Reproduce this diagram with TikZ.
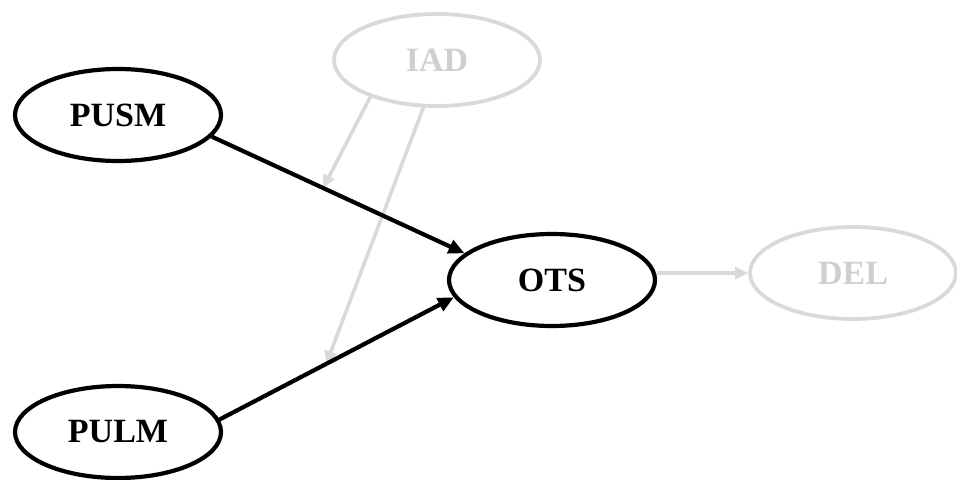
\documentclass[tikz,border=0pt]{standalone}
\usepackage{fontspec}
\setmainfont{Liberation Serif}
\usetikzlibrary{shapes.geometric,arrows.meta,calc}
\definecolor{faint}{HTML}{D9D9D9}
\definecolor{fainttext}{HTML}{CFCFCF}
\tikzset{
  construct/.style={ellipse, draw=black, line width=4.2pt, inner sep=0pt,
    minimum width=206pt, minimum height=92pt,
    font=\fontsize{34}{40}\selectfont\bfseries},
  faintconstruct/.style={construct, draw=faint, line width=3.8pt, text=fainttext},
  path/.style={line width=4.2pt, -{Triangle[length=16pt,width=14pt]}},
  faintpath/.style={draw=faint, line width=3.6pt, -{Triangle[length=13pt,width=12pt]}},
}
\begin{document}
\begin{tikzpicture}[x=1pt,y=-1pt]
  \useasboundingbox (0,0) rectangle (957,479);
  % constructs
  \node[construct] (PUSM) at (118,115) {PUSM};
  \node[construct] (PULM) at (118,432) {PULM};
  \node[construct] (OTS) at (552,280) {OTS};
  \node[faintconstruct] (IAD) at (437,60) {IAD};
  \node[faintconstruct] (DEL) at (853,273) {DEL};
  % moderation targets on the two main paths
  \coordinate (m1) at ($(PUSM.-13)!0.44!(OTS.163)$);
  \coordinate (m2) at ($(PULM.7)!0.455!(OTS.190)$);
  % moderating effects (drawn first, underneath)
  \draw[faintpath] (IAD.209) -- (m1);
  \draw[faintpath] (IAD.254) -- (m2);
  % structural paths
  \draw[path] (PUSM.-13) -- (OTS.163);
  \draw[path] (PULM.7) -- (OTS.190);
  \draw[faintpath] (OTS.east |- DEL.west) -- (DEL.west);
\end{tikzpicture}
\end{document}
